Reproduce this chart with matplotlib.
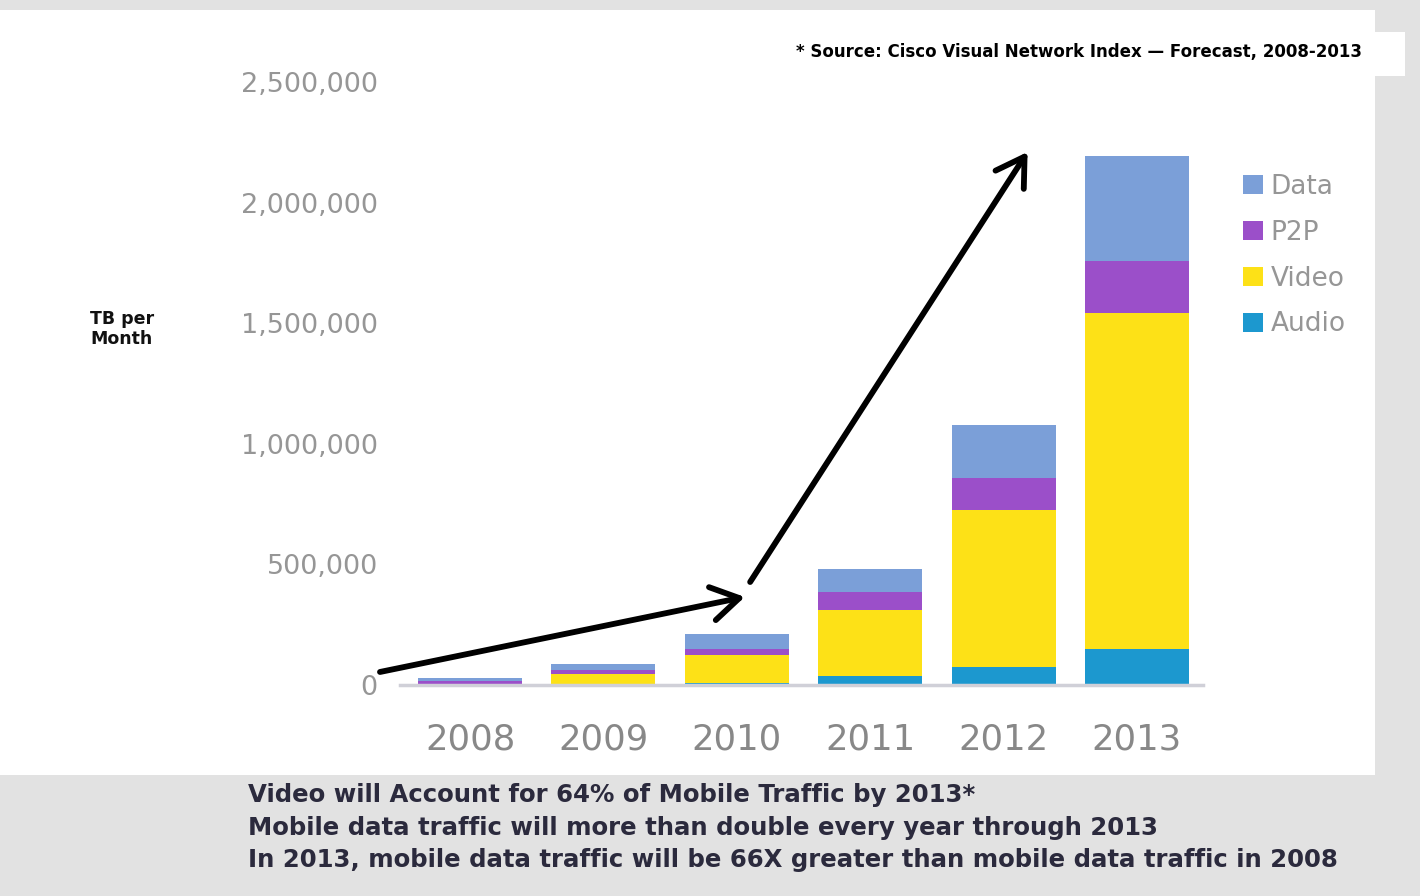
import numpy as np
import matplotlib
matplotlib.use("Agg")
import matplotlib.pyplot as plt
from matplotlib.patches import Rectangle, Patch
from matplotlib.ticker import FuncFormatter

# Mobile traffic forecast, TB per month, by traffic type
years = ["2008", "2009", "2010", "2011", "2012", "2013"]
audio = [1000, 3000, 8000, 39000, 75000, 149000]
video = [5000, 41000, 116000, 270000, 651000, 1393000]
p2p = [9000, 17000, 25000, 76000, 133000, 216000]
data = [14000, 25000, 62000, 96000, 220000, 435000]

series_names = ["Audio", "Video", "P2P", "Data"]
series_colors = ["#1c98cf", "#fde117", "#9b4fc9", "#7b9fd8"]

y_ticks = [0, 500000, 1000000, 1500000, 2000000, 2500000]

source_note = "* Source: Cisco Visual Network Index \u2014 Forecast, 2008-2013"
takeaways = [
    "Video will Account for 64% of Mobile Traffic by 2013*",
    "Mobile data traffic will more than double every year through 2013",
    "In 2013, mobile data traffic will be 66X greater than mobile data traffic in 2008",
]

W, H = 1420, 896
fig = plt.figure(figsize=(W / 100, H / 100), dpi=100, facecolor="#e2e2e2")

# white slide panel and the source box that pokes out on the right
fig.patches.append(Rectangle((0, 1 - 775 / H), 1375 / W, 765 / H,
                             transform=fig.transFigure, facecolor="white",
                             edgecolor="none", zorder=-2))
fig.patches.append(Rectangle((780 / W, 1 - 76 / H), 625 / W, 44 / H,
                             transform=fig.transFigure, facecolor="white",
                             edgecolor="none", zorder=-2))

ax = fig.add_axes([400 / W, 1 - 685 / H, 803 / W, 603 / H])
ax.set_facecolor("none")

x = np.arange(len(years))
bottom = np.zeros(len(years))
for name, vals, col in zip(series_names, [audio, video, p2p, data], series_colors):
    ax.bar(x, vals, width=0.78, bottom=bottom, color=col, label=name,
           edgecolor="none", zorder=2)
    bottom += np.array(vals)

ax.set_xlim(-0.525, 5.495)
ax.set_ylim(0, 2500000)
ax.set_xticks(x)
ax.set_xticklabels(years)
ax.set_yticks(y_ticks)
ax.yaxis.set_major_formatter(FuncFormatter(lambda v, p: f"{int(v):,}"))

for s in ["top", "right", "left"]:
    ax.spines[s].set_visible(False)
ax.spines["bottom"].set_color("#d0d0d8")
ax.spines["bottom"].set_linewidth(2.5)
ax.tick_params(axis="both", length=0)
ax.tick_params(axis="y", pad=16, labelsize=19.5, labelcolor="#969696")
ax.tick_params(axis="x", pad=27, labelsize=25.5, labelcolor="#888888")

# growth arrows
arrow_kw = dict(arrowstyle="->,head_length=0.9,head_width=0.55", lw=4.2,
                color="black", mutation_scale=22, shrinkA=0, shrinkB=0)
ax.annotate("", xy=(2.06, 365000), xytext=(-0.675, 54000),
            arrowprops=arrow_kw, annotation_clip=False, zorder=5)
ax.annotate("", xy=(4.18, 2210000), xytext=(2.10, 427000),
            arrowprops=arrow_kw, annotation_clip=False, zorder=5)

# legend, top series first
handles = [Patch(facecolor=c, edgecolor="none", label=n)
           for n, c in zip(series_names[::-1], series_colors[::-1])]
fig.legend(handles=handles, loc="upper left",
           bbox_to_anchor=(1243 / W, 1 - 174 / H), frameon=False,
           fontsize=19, labelcolor="#969696", handlelength=0.75,
           handleheight=0.75, handletextpad=0.3, labelspacing=0.75,
           borderpad=0, borderaxespad=0)

fig.text(122 / W, 1 - 329 / H, "TB per\nMonth", ha="center", va="center",
         fontsize=12.5, fontweight="bold", linespacing=1.1, color="#111111")

fig.text(1362 / W, 1 - 52 / H, source_note, ha="right", va="center",
         fontsize=12, fontweight="bold", color="black")

for i, line in enumerate(takeaways):
    fig.text(248 / W, 1 - (795 + 32.5 * i) / H, line, ha="left", va="center",
             fontsize=17.6, fontweight="bold", color="#2b2a3d")

fig.savefig("out.png", dpi=100, facecolor=fig.get_facecolor())
